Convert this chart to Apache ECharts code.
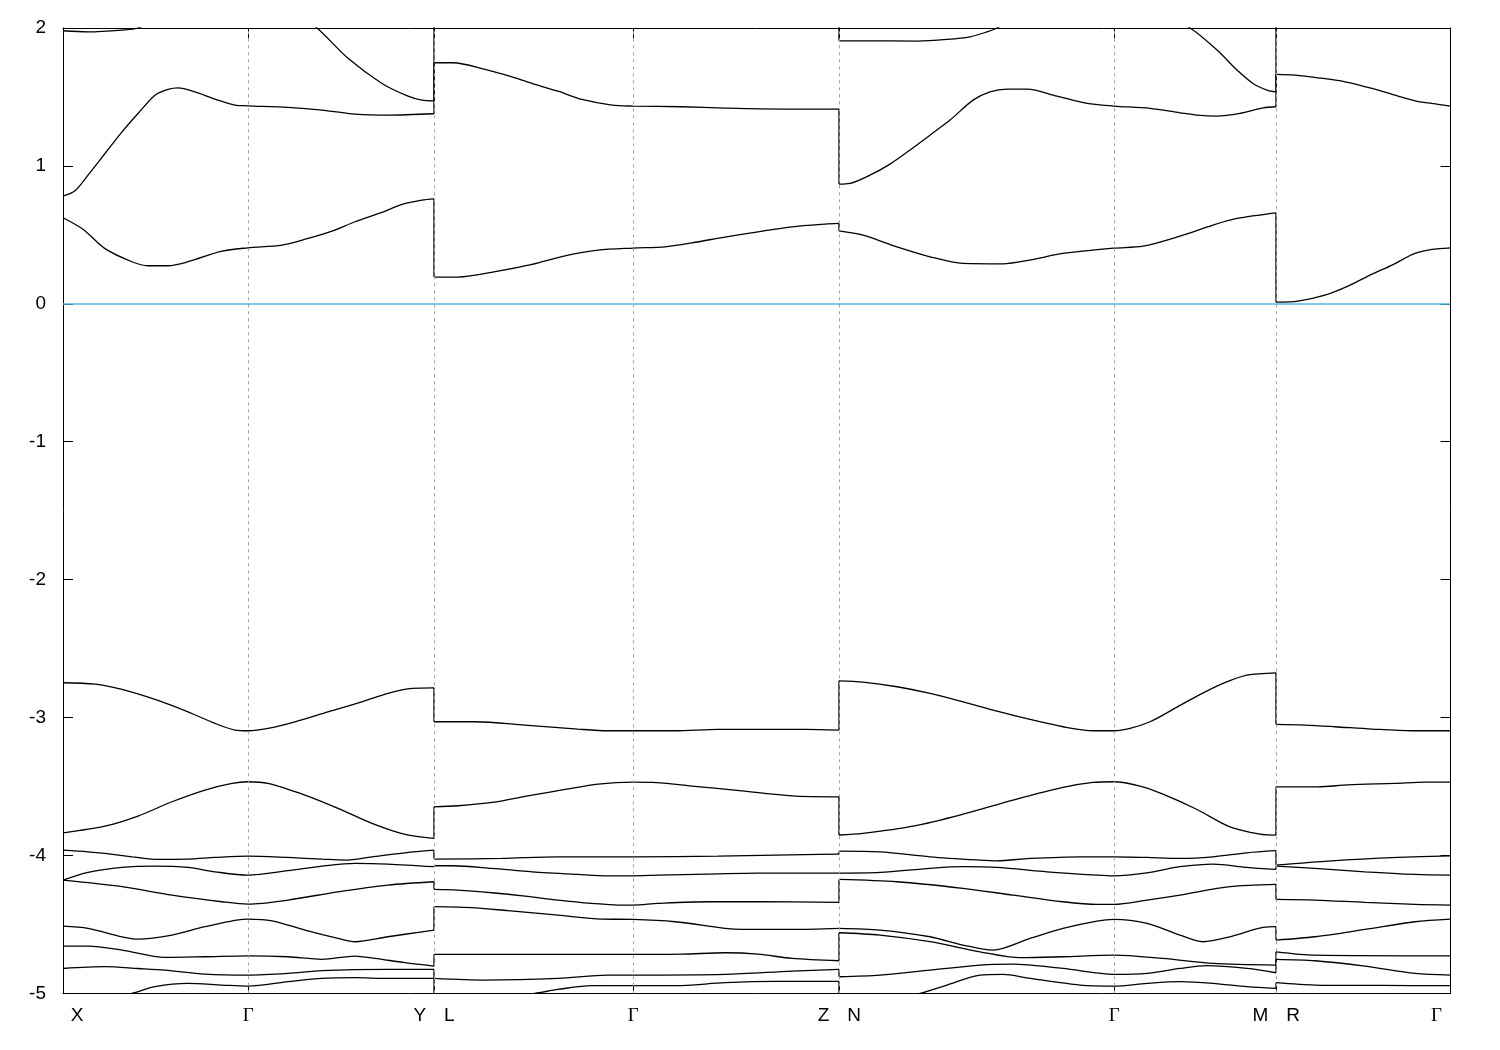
<!DOCTYPE html>
<html>
<head>
<meta charset="utf-8">
<script src="https://cdn.jsdelivr.net/npm/echarts@6/dist/echarts.min.js"></script>
<style>
html,body{margin:0;padding:0;background:#fff;}
#chart{width:1500px;height:1050px;}
</style>
</head>
<body>
<div id="chart"></div>
<script>
// High-symmetry path (k-path distance, arbitrary units)
const kTicks = [0, 185.3, 371, 570.3, 776.3, 1051.3, 1213.3, 1387.5];
const kLabels = ['X', 'Γ', 'Y|L', 'Γ', 'Z|N', 'Γ', 'M|R', 'Γ'];
const eFermi = 0;
const eMin = -5, eMax = 2, eStep = 1;

// Bands: [k, E(eV)], each band runs through all path segments
const band1 = [[0,1.98],[25,1.972],[59,1.985],[75,2.0],[110,2.12],[185,2.25],[230,2.12],[254,2.0],[285,1.78],[319,1.598],[345,1.506],[359,1.477],[371,1.472],
  [371,2.3],[570,2.4],[776,2.2],
  [776,1.907],[800,1.907],[854,1.905],[884,1.917],[907,1.936],[924,1.972],[934,2.0],[990,2.2],[1051,2.3],[1127,2.0],[1154,1.84],[1174,1.695],[1190,1.598],[1204,1.55],[1213,1.537],
  [1213,2.3],[1387.5,2.3]];
const band2 = [[0,0.781],[12,0.82],[25,0.933],[42,1.09],[59,1.247],[75,1.38],[92,1.513],[105,1.555],[115,1.566],[132,1.537],[152,1.484],[172,1.441],[185,1.436],[225,1.424],[259,1.405],[292,1.376],[325,1.368],[371,1.378],
  [371,1.748],[390,1.748],[422,1.70],[449,1.646],[472,1.591],[495,1.542],[519,1.482],[549,1.441],[570,1.434],[619,1.429],[662,1.419],[719,1.412],[776,1.412],
  [776,0.868],[787,0.873],[807,0.933],[827,1.013],[847,1.115],[867,1.223],[887,1.332],[910,1.477],[927,1.537],[944,1.557],[964,1.557],[994,1.506],[1024,1.453],[1051,1.434],[1087,1.417],[1117,1.385],[1134,1.368],[1154,1.361],[1177,1.381],[1200,1.421],[1213,1.429],
  [1213,1.663],[1232,1.658],[1255,1.639],[1282,1.61],[1309,1.562],[1335,1.506],[1352,1.472],[1369,1.453],[1387.5,1.434]];
const band3 = [[0,0.624],[20,0.54],[42,0.40],[69,0.305],[85,0.276],[105,0.276],[125,0.305],[159,0.382],[185,0.406],[219,0.426],[245,0.474],[269,0.527],[292,0.595],[319,0.663],[339,0.721],[359,0.752],[371,0.761],
  [371,0.194],[395,0.194],[435,0.237],[469,0.286],[502,0.348],[535,0.389],[570,0.404],[602,0.413],[629,0.442],[662,0.484],[695,0.522],[729,0.558],[762,0.578],[776,0.583],
  [776,0.529],[800,0.498],[834,0.413],[867,0.341],[900,0.293],[940,0.29],[967,0.317],[1000,0.365],[1051,0.404],[1080,0.418],[1117,0.491],[1150,0.571],[1174,0.619],[1213,0.66],
  [1213,0.012],[1235,0.02],[1262,0.063],[1285,0.128],[1309,0.215],[1329,0.281],[1352,0.365],[1369,0.394],[1387.5,0.406]];
const band4 = [[0,-2.748],[32,-2.758],[59,-2.796],[92,-2.869],[125,-2.959],[152,-3.043],[172,-3.091],[185,-3.096],[205,-3.079],[232,-3.031],[265,-2.959],[299,-2.886],[325,-2.825],[349,-2.789],[371,-2.785],
  [371,-3.031],[412,-3.031],[462,-3.055],[515,-3.084],[545,-3.096],[570,-3.096],[612,-3.096],[655,-3.086],[742,-3.086],[776,-3.091],
  [776,-2.734],[800,-2.743],[834,-2.777],[867,-2.825],[900,-2.886],[934,-2.954],[967,-3.014],[1000,-3.067],[1030,-3.096],[1051,-3.096],[1067,-3.079],[1087,-3.031],[1110,-2.941],[1134,-2.845],[1160,-2.753],[1184,-2.693],[1213,-2.676],
  [1213,-3.050],[1242,-3.055],[1272,-3.067],[1309,-3.084],[1349,-3.096],[1387.5,-3.096]];
const band5 = [[0,-3.836],[42,-3.788],[75,-3.715],[109,-3.611],[142,-3.526],[169,-3.478],[185,-3.466],[205,-3.478],[242,-3.563],[275,-3.659],[309,-3.768],[342,-3.848],[371,-3.877],
  [371,-3.648],[395,-3.640],[429,-3.616],[469,-3.563],[502,-3.522],[535,-3.483],[570,-3.469],[589,-3.471],[629,-3.497],[679,-3.532],[729,-3.568],[776,-3.575],
  [776,-3.852],[800,-3.84],[850,-3.788],[900,-3.701],[950,-3.599],[1000,-3.507],[1030,-3.471],[1051,-3.466],[1077,-3.497],[1100,-3.556],[1134,-3.667],[1167,-3.793],[1197,-3.846],[1213,-3.853],
  [1213,-3.503],[1255,-3.503],[1285,-3.488],[1332,-3.478],[1362,-3.469],[1387.5,-3.469]];
const band6 = [[0,-3.962],[25,-3.974],[42,-3.986],[69,-4.010],[92,-4.029],[125,-4.027],[152,-4.015],[185,-4.005],[225,-4.015],[259,-4.027],[282,-4.034],[309,-4.010],[342,-3.981],[371,-3.962],
  [371,-4.027],[439,-4.022],[495,-4.010],[570,-4.010],[655,-4.005],[742,-3.995],[776,-3.991],
  [776,-3.969],[817,-3.974],[867,-4.010],[917,-4.034],[934,-4.039],[967,-4.022],[1017,-4.010],[1051,-4.010],[1084,-4.015],[1117,-4.022],[1150,-4.010],[1184,-3.981],[1213,-3.966],
  [1213,-4.070],[1269,-4.039],[1335,-4.015],[1387.5,-4.003]];
const band7 = [[0,-4.18],[25,-4.123],[59,-4.087],[92,-4.078],[125,-4.087],[152,-4.119],[185,-4.143],[225,-4.111],[259,-4.078],[292,-4.058],[325,-4.063],[371,-4.082],
  [371,-4.075],[390,-4.075],[429,-4.094],[469,-4.119],[515,-4.138],[545,-4.148],[570,-4.148],[595,-4.143],[645,-4.136],[695,-4.128],[776,-4.128],
  [776,-4.128],[817,-4.123],[867,-4.094],[900,-4.082],[934,-4.087],[984,-4.119],[1034,-4.143],[1051,-4.148],[1084,-4.126],[1117,-4.082],[1150,-4.063],[1184,-4.087],[1213,-4.102],
  [1213,-4.078],[1252,-4.094],[1302,-4.119],[1352,-4.138],[1387.5,-4.143]];
const band8 = [[0,-4.18],[59,-4.227],[109,-4.288],[159,-4.336],[185,-4.353],[225,-4.324],[275,-4.264],[325,-4.215],[371,-4.191],
  [371,-4.247],[395,-4.252],[429,-4.271],[462,-4.295],[495,-4.324],[529,-4.348],[555,-4.360],[570,-4.360],[595,-4.348],[645,-4.336],[695,-4.336],[776,-4.341],
  [776,-4.174],[834,-4.191],[900,-4.239],[950,-4.288],[1000,-4.336],[1034,-4.355],[1051,-4.355],[1084,-4.324],[1117,-4.288],[1167,-4.227],[1213,-4.210],
  [1213,-4.319],[1252,-4.324],[1302,-4.341],[1352,-4.355],[1387.5,-4.360]];
const band9 = [[0,-4.513],[25,-4.529],[59,-4.590],[75,-4.607],[109,-4.578],[142,-4.517],[185,-4.462],[209,-4.474],[242,-4.542],[275,-4.602],[292,-4.626],[325,-4.590],[359,-4.554],[371,-4.542],
  [371,-4.372],[412,-4.380],[445,-4.401],[495,-4.433],[539,-4.462],[570,-4.464],[612,-4.481],[662,-4.529],[679,-4.537],[729,-4.537],[776,-4.529],
  [776,-4.529],[817,-4.542],[867,-4.590],[900,-4.650],[930,-4.687],[967,-4.602],[1000,-4.529],[1034,-4.476],[1051,-4.464],[1084,-4.493],[1117,-4.578],[1140,-4.626],[1167,-4.590],[1200,-4.522],[1213,-4.517],
  [1213,-4.614],[1252,-4.590],[1302,-4.537],[1352,-4.481],[1387.5,-4.462]];
const band10 = [[0,-4.658],[25,-4.658],[59,-4.687],[102,-4.740],[142,-4.735],[185,-4.728],[225,-4.735],[259,-4.754],[292,-4.730],[312,-4.747],[342,-4.778],[371,-4.803],
  [371,-4.718],[462,-4.718],[570,-4.718],[619,-4.716],[662,-4.706],[695,-4.716],[729,-4.747],[776,-4.764],
  [776,-4.561],[817,-4.578],[867,-4.626],[917,-4.699],[957,-4.742],[1000,-4.735],[1051,-4.723],[1100,-4.747],[1150,-4.783],[1213,-4.795],
  [1213,-4.699],[1252,-4.723],[1387.5,-4.728]];
const band11 = [[0,-4.820],[42,-4.807],[75,-4.820],[102,-4.832],[142,-4.861],[185,-4.868],[225,-4.856],[259,-4.836],[325,-4.827],[371,-4.827],
  [371,-4.892],[422,-4.904],[495,-4.892],[545,-4.868],[570,-4.868],[662,-4.863],[729,-4.839],[776,-4.827],
  [776,-4.880],[817,-4.868],[867,-4.832],[917,-4.795],[950,-4.788],[1000,-4.820],[1051,-4.863],[1084,-4.856],[1117,-4.820],[1144,-4.800],[1184,-4.820],[1213,-4.851],
  [1213,-4.754],[1252,-4.764],[1302,-4.803],[1352,-4.856],[1387.5,-4.868]];
const band12 = [[0,-5.10],[40,-5.05],[69,-5.001],[92,-4.952],[125,-4.928],[159,-4.940],[185,-4.948],[225,-4.916],[259,-4.892],[292,-4.887],[325,-4.892],[371,-4.892],
  [371,-5.10],[420,-5.05],[472,-5.001],[495,-4.972],[529,-4.945],[570,-4.945],[612,-4.945],[662,-4.923],[712,-4.914],[776,-4.914],
  [776,-5.12],[820,-5.06],[857,-5.001],[884,-4.940],[917,-4.868],[940,-4.863],[967,-4.892],[1017,-4.940],[1051,-4.948],[1084,-4.928],[1117,-4.916],[1150,-4.928],[1184,-4.952],[1213,-4.965],
  [1213,-4.923],[1252,-4.940],[1319,-4.943],[1387.5,-4.945]];

const bands = [band1, band2, band3, band4, band5, band6, band7, band8, band9, band10, band11, band12];

const chart = echarts.init(document.getElementById('chart'), null, {renderer: 'canvas'});
const font = 'Liberation Sans, Arial, sans-serif';
const kMax = kTicks[kTicks.length - 1];

function kLabelFmt(value) {
  let idx = 0, best = Infinity;
  kTicks.forEach((k, i) => { const d = Math.abs(k - value); if (d < best) { best = d; idx = i; } });
  const lab = kLabels[idx];
  const tag = s => s === 'Γ' ? '{g|Γ}' : '{t|' + s + '}';
  if (lab.indexOf('|') >= 0) {
    const parts = lab.split('|');
    return tag(parts[0]) + '{sp|}' + tag(parts[1]);
  }
  if (idx === 0) return '{pad|}' + tag(lab);
  if (idx === kTicks.length - 1) return tag(lab) + '{pad|}';
  return tag(lab);
}

// Split each band into path segments (smoothed) and the vertical jumps between them
function splitBand(b) {
  const segs = [[b[0]]];
  const jumps = [];
  for (let i = 1; i < b.length; i++) {
    if (b[i][0] === b[i - 1][0]) {
      jumps.push([b[i - 1][0], b[i - 1][1]], [b[i][0], b[i][1]], '-');
      segs.push([b[i]]);
    } else {
      segs[segs.length - 1].push(b[i]);
    }
  }
  return {segs, jumps};
}

const lineStyle = {color: '#000', width: 1.3};
const series = [];
bands.forEach(b => {
  const {segs, jumps} = splitBand(b);
  segs.forEach(s => series.push({
    type: 'line', data: s, showSymbol: false, symbol: 'none', clip: true, silent: true,
    animation: false, z: 3, smooth: 0.3, lineStyle
  }));
  if (jumps.length) series.push({
    type: 'line', data: jumps, showSymbol: false, symbol: 'none', clip: true, silent: true,
    animation: false, z: 3, connectNulls: false, lineStyle
  });
});

series.unshift({
  type: 'line',
  data: [],
  silent: true,
  animation: false,
  z: 1,
  markLine: {
    symbol: 'none',
    silent: true,
    animation: false,
    label: {show: false},
    data: kTicks.slice(1, -1).map(k => ({xAxis: k, lineStyle: {color: '#a0a0a0', width: 1, type: [3, 4]}}))
      .concat([{yAxis: eFermi, lineStyle: {color: '#56b4e9', width: 1.5, type: 'solid'}}])
  }
});

const xCommon = {
  type: 'value', min: 0, max: kMax,
  axisLine: {show: true, onZero: false, lineStyle: {color: '#000', width: 1}},
  axisTick: {show: true, inside: true, length: 10, customValues: kTicks, lineStyle: {color: '#000', width: 1}},
  splitLine: {show: false}
};
const yCommon = {
  type: 'value', min: eMin, max: eMax, interval: eStep,
  axisLine: {show: true, onZero: false, lineStyle: {color: '#000', width: 1}},
  axisTick: {show: true, inside: true, length: 10, lineStyle: {color: '#000', width: 1}},
  splitLine: {show: false}
};

chart.setOption({
  backgroundColor: '#fff',
  animation: false,
  grid: {left: 63, right: 49.5, top: 28, bottom: 56.7, containLabel: false, outerBoundsMode: 'none'},
  xAxis: [
    Object.assign({}, xCommon, {
      position: 'bottom',
      axisLabel: {
        show: true, customValues: kTicks, margin: 13, color: '#000', fontSize: 19, fontFamily: font,
        formatter: kLabelFmt,
        rich: {
          t: {fontSize: 19, fontFamily: font, color: '#000'},
          g: {fontSize: 19, fontFamily: 'Liberation Serif, DejaVu Serif, serif', color: '#000'},
          sp: {width: 18},
          pad: {width: 28}
        }
      }
    }),
    Object.assign({}, xCommon, {position: 'top', axisLabel: {show: false}})
  ],
  yAxis: [
    Object.assign({}, yCommon, {position: 'left', axisLabel: {show: true, margin: 17, color: '#000', fontSize: 19, fontFamily: font}}),
    Object.assign({}, yCommon, {position: 'right', axisLabel: {show: false}})
  ],
  series: series
});
</script>
</body>
</html>
